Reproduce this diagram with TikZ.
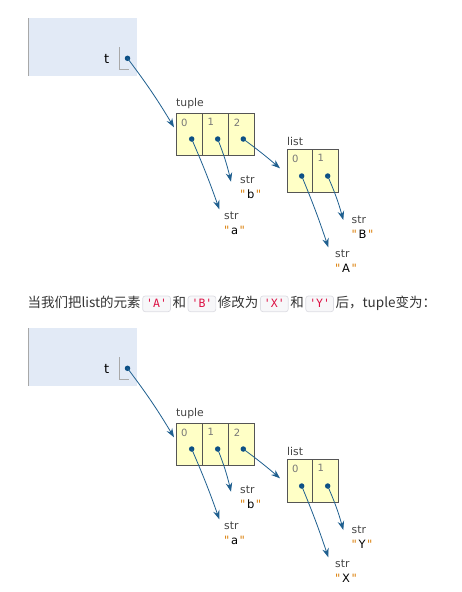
\documentclass[tikz,border=0pt]{standalone}
\usepackage{fontspec}
\newfontfamily\labfont{DejaVu Sans}
\newfontfamily\cjkfont{Noto Sans CJK SC}
\newfontfamily\codefont{DejaVu Sans Mono}
\usetikzlibrary{arrows.meta,calc}
\definecolor{framefill}{HTML}{E2EAF6}
\definecolor{frameline}{HTML}{A8A8A8}
\definecolor{boxfill}{HTML}{FFFFC6}
\definecolor{boxdraw}{HTML}{555555}
\definecolor{idxc}{HTML}{777777}
\definecolor{labc}{HTML}{444444}
\definecolor{ptrc}{HTML}{1F5F8F}
\definecolor{dotc}{HTML}{0B4F85}
\definecolor{strq}{HTML}{D97A00}
\definecolor{txtc}{HTML}{333333}
\definecolor{codefill}{HTML}{F7F7F9}
\definecolor{codedraw}{HTML}{DDDDE3}
\definecolor{codetext}{HTML}{DD1144}
\tikzset{
  cell/.style={draw=boxdraw, fill=boxfill, line width=0.9pt, minimum width=26.3pt, minimum height=42pt, inner sep=0pt, outer sep=0pt},
  lcell/.style={cell, minimum width=25.5pt, minimum height=43pt},
  idx/.style={font=\labfont\fontsize{10}{11}\selectfont, text=idxc, inner sep=0pt, anchor=north west},
  typelabel/.style={font=\labfont\fontsize{10.8}{12}\selectfont, text=labc, inner sep=0pt, anchor=base west},
  strval/.style={font=\labfont\fontsize{11.5}{12}\selectfont, text=black, inner sep=0pt, anchor=base west},
  varname/.style={font=\labfont\fontsize{13}{14}\selectfont, text=black, inner sep=0pt, anchor=base west},
  ptr/.style={draw=ptrc, line width=0.8pt, -{Stealth[length=9pt,width=6.5pt,inset=3pt]}},
  ptrdot/.style={circle, fill=dotc, inner sep=0pt, minimum size=5.5pt},
  bracket/.style={draw=frameline, line width=1.1pt},
  sent/.style={font=\cjkfont\fontsize{13.5}{15}\selectfont, text=txtc, inner sep=0pt, anchor=base west},
  codebox/.style={font=\codefont\fontsize{11.5}{12}\selectfont, text=codetext, fill=codefill, draw=codedraw, line width=0.7pt, rounded corners=2.5pt, inner xsep=3.5pt, inner ysep=2pt, text height=9.5pt, text depth=2.2pt, anchor=base west}
}
\newcommand\qs[1]{{\color{strq}"}\kern1.6pt#1\kern1.6pt{\color{strq}"}}
\newcommand\halfdiagram[3]{%
  \begin{scope}[shift={(0,#1)}]
    \fill[framefill] (28.3,18.3) rectangle (136.7,75.7);
    \draw[frameline, line width=1.5pt] (28.3,18.3) -- (28.3,75.7);
    \node[varname] (t) at (104,63) {t};
    \draw[bracket] (119.3,47.3) |- (128.7,69.3);
    \node[ptrdot] (td) at (127.5,58.3) {};
    % tuple
    \node[typelabel] (tl) at (176,106.7) {tuple};
    \node[cell] (c0) at (189.15,134) {};
    \node[cell] (c1) at (215.45,134) {};
    \node[cell] (c2) at (241.75,134) {};
    \node[idx] at ($(c0.north west)+(5,5.5)$) {0};
    \node[idx] at ($(c1.north west)+(5,5.5)$) {1};
    \node[idx] at ($(c2.north west)+(5,5.5)$) {2};
    \node[ptrdot] (d0) at (191.7,139) {};
    \node[ptrdot] (d1) at (217.7,139) {};
    \node[ptrdot] (d2) at (243.3,139) {};
    % list
    \node[typelabel] (ll) at (287,145) {list};
    \node[lcell] (l0) at (299.75,170.5) {};
    \node[lcell] (l1) at (325.25,170.5) {};
    \node[idx] at ($(l0.north west)+(5,5.5)$) {0};
    \node[idx] at ($(l1.north west)+(5,5.5)$) {1};
    \node[ptrdot] (e0) at (301.7,176) {};
    \node[ptrdot] (e1) at (327.7,176) {};
    % strings
    \node[typelabel] (sa) at (224,219.5) {str};
    \node[strval] (va) at (224,234) {\qs{a}};
    \node[typelabel] (sb) at (240,183) {str};
    \node[strval] (vb) at (240,198) {\qs{b}};
    \node[typelabel] (sA) at (335,257) {str};
    \node[strval] (vA) at (335,272) {\qs{#2}};
    \node[typelabel] (sB) at (351.5,223) {str};
    \node[strval] (vB) at (351.5,238) {\qs{#3}};
    % tips
    \coordinate (tt) at (174,127.3);
    \coordinate (ta) at (219.3,209.3);
    \coordinate (tb) at (231,181.7);
    \coordinate (tl2) at (280,168.3);
    \coordinate (tA) at (328.3,247.3);
    \coordinate (tB) at (343.3,220);
    \draw[ptr] (td.center) to[bend left=3] (tt);
    \draw[ptr] (d0.center) to[bend left=2] (ta);
    \draw[ptr] (d1.center) to[bend left=4] (tb);
    \draw[ptr] (d2.center) to[bend left=2] (tl2);
    \draw[ptr] (e0.center) to[bend left=2] (tA);
    \draw[ptr] (e1.center) to[bend left=4] (tB);
  \end{scope}}
\begin{document}
\begin{tikzpicture}[x=1pt,y=-1pt]
  \useasboundingbox (0,0) rectangle (461,592);
  \halfdiagram{0}{A}{B}
  \node[sent] (s1) at (27.3,307.5) {当我们把list的元素};
  \node[codebox, xshift=1.5pt] (k1) at (s1.base east) {'A'};
  \node[sent, xshift=1.5pt] (s2) at (k1.base east) {和};
  \node[codebox, xshift=1.5pt] (k2) at (s2.base east) {'B'};
  \node[sent, xshift=1.5pt] (s3) at (k2.base east) {修改为};
  \node[codebox, xshift=1.5pt] (k3) at (s3.base east) {'X'};
  \node[sent, xshift=1.5pt] (s4) at (k3.base east) {和};
  \node[codebox, xshift=1.5pt] (k4) at (s4.base east) {'Y'};
  \node[sent, xshift=1.5pt] (s5) at (k4.base east) {后，tuple变为：};
  \halfdiagram{310}{X}{Y}
\end{tikzpicture}
\end{document}
